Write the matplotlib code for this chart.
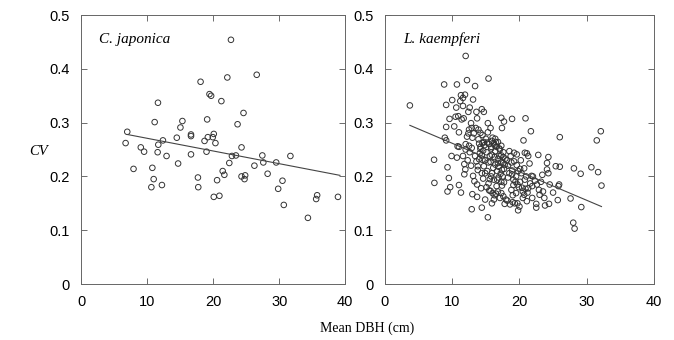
import numpy as np
import matplotlib.pyplot as plt

# C. japonica
cj_dbh = [7.0, 6.75, 7.95, 9.05, 9.55, 11.65, 11.15, 11.7, 11.6, 12.4, 12.95, 10.8, 11.0, 10.65,
          12.25, 14.5, 14.7, 15.05, 15.35, 16.65, 16.65, 16.65, 18.1, 17.7, 17.75, 19.45, 19.7,
          19.1, 19.2, 18.7, 19.0, 20.1, 19.95, 20.35, 21.25, 22.15, 22.7, 26.6, 24.6, 23.7, 24.3,
          22.85, 23.45, 22.45, 21.45, 21.7, 20.6, 20.1, 20.95, 24.3, 24.85, 24.75, 26.25, 27.45,
          27.6, 28.25, 29.55, 30.5, 29.85, 30.7, 31.7, 34.35, 35.75, 35.6, 38.9]
cj_cv = [0.283, 0.262, 0.214, 0.254, 0.246, 0.337, 0.301, 0.259, 0.245, 0.267, 0.238, 0.216, 0.195,
         0.180, 0.184, 0.272, 0.224, 0.291, 0.303, 0.278, 0.275, 0.241, 0.376, 0.198, 0.180, 0.353,
         0.350, 0.306, 0.273, 0.266, 0.246, 0.279, 0.273, 0.262, 0.340, 0.384, 0.454, 0.389, 0.318,
         0.297, 0.254, 0.238, 0.239, 0.225, 0.210, 0.203, 0.193, 0.162, 0.164, 0.200, 0.202, 0.195,
         0.220, 0.239, 0.226, 0.205, 0.226, 0.192, 0.177, 0.147, 0.238, 0.123, 0.165, 0.158, 0.162]
cj_fit_x = [7.0, 39.2]
cj_fit_y = [0.278, 0.202]

# L. kaempferi
lk_dbh = [3.7, 7.3, 7.35, 8.8, 9.1, 8.9, 9.1, 9.1, 9.3, 9.5, 9.3, 9.7, 9.6, 10.0, 9.9, 10.7, 10.6,
          10.5, 10.9, 10.3, 11.0, 10.8, 11.0, 10.7, 11.0, 11.3, 11.2, 11.3, 11.6, 11.9, 12.2, 12.0,
          11.6, 11.4, 11.7, 11.6, 11.8, 11.95, 11.8, 12.0, 12.2, 12.4, 12.6, 12.5, 12.4, 12.8, 12.9,
          13.1, 13.4, 13.6, 13.7, 13.5, 12.9, 12.6, 12.5, 12.8, 13.1, 13.0, 12.9, 13.3, 13.7, 13.6,
          13.8, 13.4, 13.9, 14.0, 14.2, 14.2, 14.4, 14.7, 15.4, 15.3, 15.3, 15.0, 14.7, 14.4, 14.5,
          14.7, 14.9, 14.6, 14.4, 14.9, 15.3, 15.5, 15.4, 15.6, 15.4, 15.6, 15.8, 15.9, 16.0, 16.2,
          16.4, 16.1, 15.9, 16.0, 15.9, 16.2, 16.5, 16.6, 16.7, 16.7, 16.8, 17.0, 17.1, 16.5, 16.8,
          17.1, 17.3, 17.7, 17.4, 17.3, 17.3, 17.6, 17.9, 17.6, 17.7, 17.5, 17.7, 17.4, 17.3, 18.0,
          17.8, 18.3, 18.5, 18.7, 18.5, 18.9, 18.8, 18.9, 19.1, 19.1, 18.8, 19.2, 19.6, 19.6, 19.8,
          19.5, 19.7, 19.5, 19.3, 19.7, 19.8, 20.0, 20.1, 20.3, 20.1, 20.4, 20.6, 20.8, 21.1, 20.9,
          20.8, 20.9, 20.7, 21.1, 21.3, 21.5, 21.7, 21.8, 21.6, 21.9, 22.3, 22.5, 22.5, 22.8, 22.9,
          23.0, 23.4, 23.5, 23.7, 23.8, 24.1, 24.1, 24.3, 24.3, 24.4, 25.0, 25.4, 25.8, 25.7, 26.0,
          26.0, 27.6, 28.1, 28.0, 28.2, 29.1, 29.2, 30.7, 31.5, 31.7, 32.1, 32.2, 25.9,
          14.2, 14.5, 14.8, 15.2, 15.5, 15.8, 16.3, 16.6, 17.0, 14.1, 14.6, 15.1, 15.9, 16.3, 16.8,
          17.3, 17.8, 14.0, 14.9, 15.7, 16.4, 16.9, 17.4, 13.8, 14.4, 15.2, 15.8, 16.2, 16.9, 17.3,
          13.7, 14.3, 15.1, 15.7, 16.3, 16.8, 17.6, 18.2, 18.6, 19.0, 18.3, 18.9, 19.4, 19.9, 20.5,
          21.2, 21.0, 20.7, 21.3, 22.0, 12.3, 12.0, 13.0, 13.2, 13.9, 14.5, 15.7, 16.4, 17.6, 18.1,
          19.2, 20.2, 22.6, 23.2, 24.5, 19.0, 20.5, 21.9, 17.2]
lk_cv = [0.332, 0.231, 0.188, 0.371, 0.333, 0.272, 0.267, 0.292, 0.217, 0.197, 0.172, 0.180, 0.307,
         0.342, 0.238, 0.371, 0.328, 0.311, 0.312, 0.293, 0.282, 0.256, 0.255, 0.235, 0.184, 0.170,
         0.340, 0.351, 0.346, 0.352, 0.379, 0.424, 0.331, 0.306, 0.308, 0.238, 0.223, 0.213, 0.204,
         0.260, 0.274, 0.320, 0.328, 0.287, 0.280, 0.299, 0.290, 0.343, 0.368, 0.320, 0.308, 0.290,
         0.253, 0.245, 0.257, 0.220, 0.201, 0.167, 0.139, 0.191, 0.162, 0.228, 0.219, 0.238, 0.269,
         0.261, 0.251, 0.281, 0.325, 0.320, 0.382, 0.299, 0.282, 0.270, 0.264, 0.239, 0.231, 0.219,
         0.206, 0.196, 0.142, 0.157, 0.124, 0.174, 0.187, 0.195, 0.226, 0.238, 0.252, 0.266, 0.272,
         0.261, 0.247, 0.216, 0.206, 0.169, 0.150, 0.157, 0.168, 0.182, 0.194, 0.210, 0.225, 0.238,
         0.250, 0.264, 0.264, 0.160, 0.309, 0.302, 0.290, 0.257, 0.239, 0.236, 0.233, 0.225, 0.214,
         0.200, 0.189, 0.183, 0.169, 0.157, 0.149, 0.220, 0.206, 0.238, 0.247, 0.307, 0.226, 0.211,
         0.194, 0.184, 0.175, 0.244, 0.241, 0.221, 0.210, 0.200, 0.185, 0.169, 0.150, 0.150, 0.137,
         0.144, 0.214, 0.206, 0.190, 0.179, 0.267, 0.244, 0.243, 0.308, 0.194, 0.177, 0.166, 0.154,
         0.238, 0.224, 0.284, 0.201, 0.187, 0.182, 0.192, 0.149, 0.142, 0.240, 0.175, 0.166, 0.203,
         0.172, 0.160, 0.146, 0.225, 0.213, 0.236, 0.206, 0.149, 0.170, 0.219, 0.182, 0.156, 0.218,
         0.273, 0.159, 0.215, 0.114, 0.103, 0.205, 0.143, 0.217, 0.267, 0.208, 0.284, 0.183, 0.185,
         0.255, 0.262, 0.258, 0.263, 0.260, 0.255, 0.258, 0.255, 0.252, 0.243, 0.248, 0.245, 0.240,
         0.236, 0.233, 0.226, 0.222, 0.232, 0.230, 0.227, 0.222, 0.218, 0.212, 0.212, 0.206, 0.210,
         0.200, 0.194, 0.198, 0.190, 0.185, 0.178, 0.180, 0.173, 0.165, 0.172, 0.163, 0.155, 0.148,
         0.152, 0.198, 0.204, 0.190, 0.180, 0.172, 0.170, 0.200, 0.215, 0.178, 0.200, 0.230, 0.250,
         0.272, 0.280, 0.287, 0.277, 0.290, 0.270, 0.245, 0.230, 0.228, 0.230, 0.185, 0.190, 0.185,
         0.165, 0.160, 0.160, 0.205]
lk_fit_x = [3.7, 32.2]
lk_fit_y = [0.295, 0.144]

panels = [("C. japonica", cj_dbh, cj_cv, cj_fit_x, cj_fit_y),
          ("L. kaempferi", lk_dbh, lk_cv, lk_fit_x, lk_fit_y)]
tick_font = ['Liberation Sans Narrow', 'Liberation Sans', 'DejaVu Sans']

fig = plt.figure(figsize=(6.74, 3.4), dpi=100)
boxes = [[0.1202, 0.1647, 0.392, 0.791], [0.5712, 0.1647, 0.399, 0.791]]
for (name, x, y, fx, fy), box in zip(panels, boxes):
    ax = fig.add_axes(box)
    ax.scatter(x, y, s=16, facecolors='none', edgecolors='#333333', linewidths=0.7)
    ax.plot(fx, fy, color='#444444', lw=0.8)
    ax.set_xlim(0, 40)
    ax.set_ylim(0, 0.5)
    ax.set_xticks([0, 10, 20, 30, 40])
    ax.set_yticks([0, 0.1, 0.2, 0.3, 0.4, 0.5])
    ax.set_yticklabels(['0', '0.1', '0.2', '0.3', '0.4', '0.5'])
    ax.tick_params(direction='in', top=True, right=True, length=4, width=0.6,
                   color='#555555', labelsize=10.5, pad=8)
    for lab in ax.get_xticklabels() + ax.get_yticklabels():
        lab.set_family(tick_font)
    for s in ax.spines.values():
        s.set_linewidth(0.7)
        s.set_color('#666666')
    ax.text(2.7, 0.455, name, family='Liberation Serif', style='italic', fontsize=11,
            va='center', ha='left')

fig.text(0.057, 0.555, 'CV', family='Liberation Serif', style='italic', fontsize=10.5,
         ha='center', va='center')
fig.text(0.545, 0.035, 'Mean DBH (cm)', family='Liberation Serif', fontsize=10,
         ha='center', va='center')
fig.savefig('out.png', dpi=100)
